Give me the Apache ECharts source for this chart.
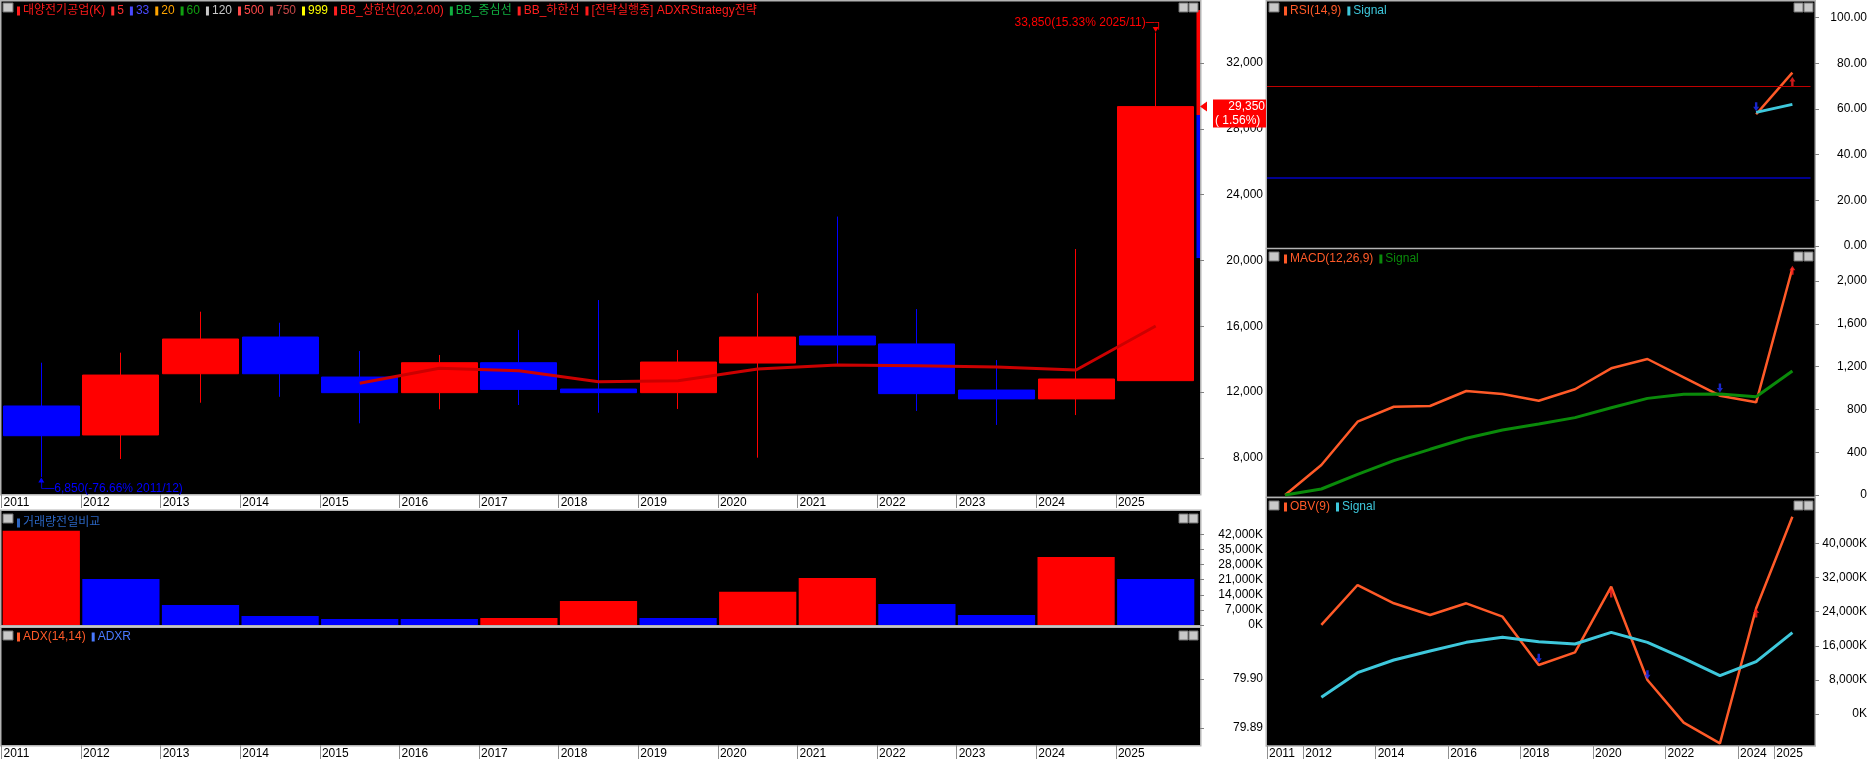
<!DOCTYPE html>
<html><head><meta charset="utf-8">
<script src="https://cdn.jsdelivr.net/npm/echarts@6/dist/echarts.min.js"></script>
<style>html,body{margin:0;padding:0;background:#fff}#c{width:1871px;height:763px}</style>
</head><body><div id="c"></div>
<script>
// ---------------- DATA ----------------
const years = ['2011','2012','2013','2014','2015','2016','2017','2018','2019','2020','2021','2022','2023','2024','2025'];
const opens  = [11160, 9400, 13120, 15350, 12920, 11970, 13790, 12190, 11970, 13770, 15410, 14930, 12130, 11590, 12700];
const closes = [ 9355,13040, 15230, 13120, 11970, 13790, 12170, 11970, 13830, 15350, 14870, 11910, 11590, 12800, 29350];
const lows   = [ 6850, 7940, 11360, 11720, 10110, 10960, 11220, 10750, 10980,  8020, 13710, 10860, 10010, 10610, 12700];
const highs  = [13790,14400, 16890, 16220, 14500, 14260, 15780, 17600, 14560, 18010, 22670, 17050, 13950, 20700, 33850];
const ma5    = [null, null, null, null, 12540, 13450, 13300, 12640, 12700, 13410, 13650, 13610, 13530, 13350, 16020];
const volumesK = [43720, 21330, 9270, 4170, 2780, 2780, 3250, 11130, 3250, 15440, 21790, 9740, 4640, 31520, 21330];
const adx  = [null,null,null,null,null,null,null,null,null,null,null,null,null,null,null];
const adxr = [null,null,null,null,null,null,null,null,null,null,null,null,null,null,null];
const rsi       = [null,null,null,null,null,null,null,null,null,null,null,null,null, 57.7, 75.9];
const rsiSignal = [null,null,null,null,null,null,null,null,null,null,null,null,null, 58.5, 62.0];
const rsiLevels = [70, 30];
const macd       = [0, 280, 685, 825, 832, 972, 944, 881, 988, 1184, 1271, 1100, 928, 866, 2119];
const macdSignal = [0, 56, 193, 321, 427, 530, 607, 664, 723, 816, 903, 941, 944, 919, 1159];
const obvK       = [null, 20900, 30260, 25970, 23230, 25970, 22830, 11500, 14470, 29870, 7980, -2030, -6880, 24800, 46290];
const obvSignalK = [null, 3910, 9700, 12670, 14780, 16810, 17990, 16970, 16420, 19160, 16810, 13070, 8990, 12280, 19080];
// signal arrows [categoryIndex, value]
const rsiUp = [[14, 72]], rsiDown = [[13, 61]];
const macdUp = [[14, 2100]], macdDown = [[12, 1000]];
const obvUp = [[9, 28400], [13, 23700]], obvDown = [[7, 13100], [10, 9200]];
// price-axis strip (blue / red) and current price note
const priceStrip = [20150, 28840, 35220];
const lastChange = '1.56%';
const highNote = '15.33% 2025/11';
const lowNote = '-76.66% 2011/12';
// tick labels
const priceTicks = [8000, 12000, 16000, 20000, 24000, 28000, 32000];
const volTicks = [0, 7000, 14000, 21000, 28000, 35000, 42000];
const adxTicks = [79.89, 79.90];
const rsiTicks = [0, 20, 40, 60, 80, 100];
const macdTicks = [0, 400, 800, 1200, 1600, 2000];
const obvTicks = [0, 8000, 16000, 24000, 32000, 40000];
const rightLabelYears = ['2011','2012','2014','2016','2018','2020','2022','2024','2025'];
// legend texts
const mainNames = ['대양전기공업(K)','5','33','20','60','120','500','750','999','BB_상한선(20,2.00)','BB_중심선','BB_하한선','[전략실행중] ADXRStrategy전략'];
const volNames = ['거래량전일비교'];
const adxNames = ['ADX(14,14)','ADXR'];
const rsiNames = ['RSI(14,9)','Signal'];
const macdNames = ['MACD(12,26,9)','Signal'];
const obvNames = ['OBV(9)','Signal'];

// ---------------- STYLE ----------------
const FONT = "'Liberation Sans','Noto Sans CJK KR',sans-serif";
const RED = '#ff0000', BLUE = '#0000ff', ORANGE = '#ff5a28', CYAN = '#3ec8dc', GREEN = '#0a8a0a';
const mainColors = ['#ff1a1a','#ff3030','#4a4aff','#ffa500','#10a010','#c8c8c8','#ff4a4a','#c84848','#ffff00','#ff2020','#10b040','#ff2020','#ff1a1a'];
const UP = 'path://M5,0L10,6L7,6L7,12L3,12L3,6L0,6Z';
const DOWN = 'path://M3,0L7,0L7,6L10,6L5,12L0,6L3,6Z';
const fmt = v => Math.round(v).toLocaleString('en-US');

const chart = echarts.init(document.getElementById('c'), null, {renderer: 'canvas'});

// grids: 0 price, 1 price-edge strip, 2 volume, 3 adx, 4 rsi, 5 macd, 6 obv
const grids = [
  {left: 1.5, top: 2, width: 1194, height: 492},
  {left: 1196.5, top: 2, width: 3.5, height: 492},
  {left: 1.5, top: 511, width: 1194, height: 114},
  {left: 1.5, top: 628, width: 1194, height: 117},
  {left: 1267, top: 1, width: 543.5, height: 247},
  {left: 1267, top: 249, width: 543.5, height: 248},
  {left: 1267, top: 498, width: 543.5, height: 247}
];

function catAx(g) { return {type: 'category', gridIndex: g, data: years, boundaryGap: true, show: false}; }
function labAx(g, showFn) {
  return {type: 'category', gridIndex: g, data: years.concat(['']), boundaryGap: false, position: 'bottom',
    axisLine: {show: false}, splitLine: {show: false},
    axisTick: {show: true, length: 14, interval: (i) => showFn(i), lineStyle: {color: '#909090'}},
    axisLabel: {interval: (i) => showFn(i), align: 'left', margin: 3, padding: [0, 0, 0, 2], color: '#000', fontSize: 12, fontFamily: FONT}};
}
function yAx(g, min, max, ticks, f, offset, margin) {
  return {type: 'value', gridIndex: g, position: 'right', offset: offset, min: min, max: max,
    axisLine: {show: false}, splitLine: {show: false},
    axisTick: {show: true, length: 4, lineStyle: {color: '#808080'}, customValues: ticks},
    axisLabel: {color: '#000', fontSize: 12, fontFamily: FONT, align: 'right', margin: margin, formatter: f, customValues: ticks}};
}
const mainShow = (i) => i < years.length;
const rightShow = (i) => rightLabelYears.indexOf(years[i]) >= 0;

const PMIN = 5813, PMAX = 35707;

const xAxes = [
  catAx(0),                       // 0
  labAx(0, mainShow),             // 1
  {type: 'value', gridIndex: 1, min: 0, max: 1, show: false}, // 2
  catAx(2),                       // 3
  catAx(3),                       // 4
  labAx(3, mainShow),             // 5
  catAx(4),                       // 6
  catAx(5),                       // 7
  catAx(6),                       // 8
  labAx(6, rightShow)             // 9
];
const yAxes = [
  yAx(0, PMIN, PMAX, priceTicks, fmt, 4.5, 63),
  {type: 'value', gridIndex: 1, min: PMIN, max: PMAX, show: false},
  yAx(2, 0, 52850, volTicks, v => fmt(v) + 'K', 4.5, 63),
  yAx(3, 79.8865, 79.9104, adxTicks, v => v.toFixed(2), 4.5, 63),
  yAx(4, -0.88, 107.27, rsiTicks, v => v.toFixed(2), 4.5, 52),
  yAx(5, -18.7, 2299, macdTicks, fmt, 4.5, 52),
  yAx(6, -7273, 50674, obvTicks, v => fmt(v) + 'K', 4.5, 52)
];

function line(name, data, xi, yi, color, width) {
  return {type: 'line', name: name, data: data, xAxisIndex: xi, yAxisIndex: yi, symbol: 'none',
    lineStyle: {color: color, width: width}, itemStyle: {color: color}, connectNulls: false, z: 3};
}
function arrows(data, xi, yi, up) {
  return {type: 'scatter', data: data, xAxisIndex: xi, yAxisIndex: yi, symbol: up ? UP : DOWN,
    symbolSize: [6, 9], itemStyle: {color: up ? '#ff2020' : '#2030ff'}, z: 6};
}

const series = [
  {type: 'candlestick', name: 'price', xAxisIndex: 0, yAxisIndex: 0, barWidth: '96%',
   data: years.map((y, i) => [opens[i], closes[i], lows[i], highs[i]]),
   itemStyle: {color: RED, color0: BLUE, borderColor: RED, borderColor0: BLUE, borderWidth: 1},
   markPoint: {silent: true, data: [
     {coord: [years[14], highs[14]], symbol: 'path://M0,0L10,0L5,8Z', symbolSize: [6, 5], symbolOffset: [0, -3],
      itemStyle: {color: RED},
      label: {show: true, position: 'left', distance: 0, offset: [10, -7], color: RED, fontSize: 12, fontFamily: FONT,
              formatter: fmt(highs[14]) + '(' + highNote + ')─┐'}},
     {coord: [years[0], lows[0]], symbol: 'path://M5,0L10,8L0,8Z', symbolSize: [6, 5], symbolOffset: [0, 3],
      itemStyle: {color: BLUE},
      label: {show: true, position: 'right', distance: 0, offset: [-7, 9], color: BLUE, fontSize: 12, fontFamily: FONT,
              formatter: '└─' + fmt(lows[0]) + '(' + lowNote + ')'}}
   ]}},
  line('MA5', ma5, 0, 0, '#cc0000', 3),
  {type: 'line', name: 'strip', xAxisIndex: 2, yAxisIndex: 1, data: [], symbol: 'none',
   markArea: {silent: true, data: [
     [{yAxis: priceStrip[0], itemStyle: {color: BLUE, opacity: 1}}, {yAxis: priceStrip[1]}],
     [{yAxis: priceStrip[1], itemStyle: {color: RED, opacity: 1}}, {yAxis: priceStrip[2]}]
   ]}},
  {type: 'line', name: 'last', xAxisIndex: 2, yAxisIndex: 1, data: [[0, closes[14]], [1, closes[14]]],
   symbol: 'none', lineStyle: {width: 0, color: 'rgba(0,0,0,0)'}, z: 10,
   endLabel: {show: true, distance: 13, offset: [0, 7], backgroundColor: RED, color: '#fff',
     fontSize: 12, fontFamily: FONT, lineHeight: 14, padding: [0, 1, 0, 2], align: 'left',
     formatter: () => '    ' + fmt(closes[14]) + '\n( ' + lastChange + ')'},
   markPoint: {silent: true, data: [{coord: [1, closes[14]], symbol: 'path://M10,0L10,10L0,5Z', symbolSize: [7, 10],
     symbolOffset: [3.5, 0], itemStyle: {color: RED}, label: {show: false}}]}},
  {type: 'bar', name: 'volume', xAxisIndex: 3, yAxisIndex: 2, data: volumesK, barCategoryGap: '3%',
   itemStyle: {color: (p) => (p.dataIndex === 0 || volumesK[p.dataIndex] > volumesK[p.dataIndex - 1]) ? RED : BLUE}},
  line('ADX', adx, 4, 3, ORANGE, 2),
  line('ADXR', adxr, 4, 3, '#4080ff', 2),
  Object.assign(line('RSI', rsi, 6, 4, ORANGE, 2.5), {
    markLine: {silent: true, symbol: 'none', label: {show: false},
      data: [{yAxis: rsiLevels[0], lineStyle: {color: '#c00000', width: 1, type: 'solid'}},
             {yAxis: rsiLevels[1], lineStyle: {color: '#0000c0', width: 1.5, type: 'solid'}}]}}),
  line('RSI Signal', rsiSignal, 6, 4, CYAN, 3),
  line('MACD', macd, 7, 5, ORANGE, 2.5),
  line('MACD Signal', macdSignal, 7, 5, GREEN, 3),
  line('OBV', obvK, 8, 6, ORANGE, 2.5),
  line('OBV Signal', obvSignalK, 8, 6, CYAN, 3),
  arrows(rsiUp, 6, 4, true), arrows(rsiDown, 6, 4, false),
  arrows(macdUp, 7, 5, true), arrows(macdDown, 7, 5, false),
  arrows(obvUp, 8, 6, true), arrows(obvDown, 8, 6, false)
];

// ---------------- FRAMES & HEADERS ----------------
function frame(x, y, w, h) {
  return {type: 'rect', z: -5, silent: true, shape: {x: x, y: y, width: w, height: h},
    style: {fill: '#000', stroke: '#b4b4b4', lineWidth: 1.5}};
}
function header(x, y, names, colors) {
  let text = ''; const rich = {sp: {width: 3}, gap: {width: 6}};
  names.forEach((n, i) => {
    rich['m' + i] = {width: 3, height: 9, backgroundColor: colors[i]};
    rich['t' + i] = {fill: colors[i], font: '12px ' + FONT};
    text += (i ? '{gap| }' : '') + '{m' + i + '| }{sp| }{t' + i + '|' + n + '}';
  });
  return {type: 'text', x: x, y: y, z: 20, silent: true,
    style: {text: text, rich: rich, font: '12px ' + FONT, verticalAlign: 'middle', fill: '#fff'}};
}
function icons(lx, rx, y) {
  const st = {fill: '#c8c8c8', stroke: '#707070', lineWidth: 1};
  return [
    {type: 'rect', z: 20, silent: true, shape: {x: lx, y: y, width: 10, height: 9}, style: st},
    {type: 'rect', z: 20, silent: true, shape: {x: rx - 20, y: y, width: 9, height: 9}, style: st},
    {type: 'rect', z: 20, silent: true, shape: {x: rx - 10, y: y, width: 9, height: 9}, style: st}
  ];
}
const graphics = [
  frame(0.75, 0.75, 1200, 494),
  frame(0.75, 510.25, 1200, 115.5),
  frame(0.75, 627.25, 1200, 118.5),
  frame(1266.25, 0.75, 549, 248),
  frame(1266.25, 248.5, 549, 249),
  frame(1266.25, 497.5, 549, 248.5),
  header(17, 11, mainNames, mainColors),
  header(17, 523, volNames, ['#2a64c0']),
  header(17, 637, adxNames, [ORANGE, '#4a7aff']),
  header(1284, 11, rsiNames, [ORANGE, CYAN]),
  header(1284, 259, macdNames, [ORANGE, GREEN]),
  header(1284, 507, obvNames, [ORANGE, CYAN])
].concat(icons(3, 1199, 3), icons(3, 1199, 514), icons(3, 1199, 631),
         icons(1269, 1814, 3), icons(1269, 1814, 252), icons(1269, 1814, 501));

chart.setOption({
  animation: false,
  backgroundColor: '#ffffff',
  grid: grids,
  xAxis: xAxes,
  yAxis: yAxes,
  series: series,
  graphic: {elements: graphics}
});
</script></body></html>
